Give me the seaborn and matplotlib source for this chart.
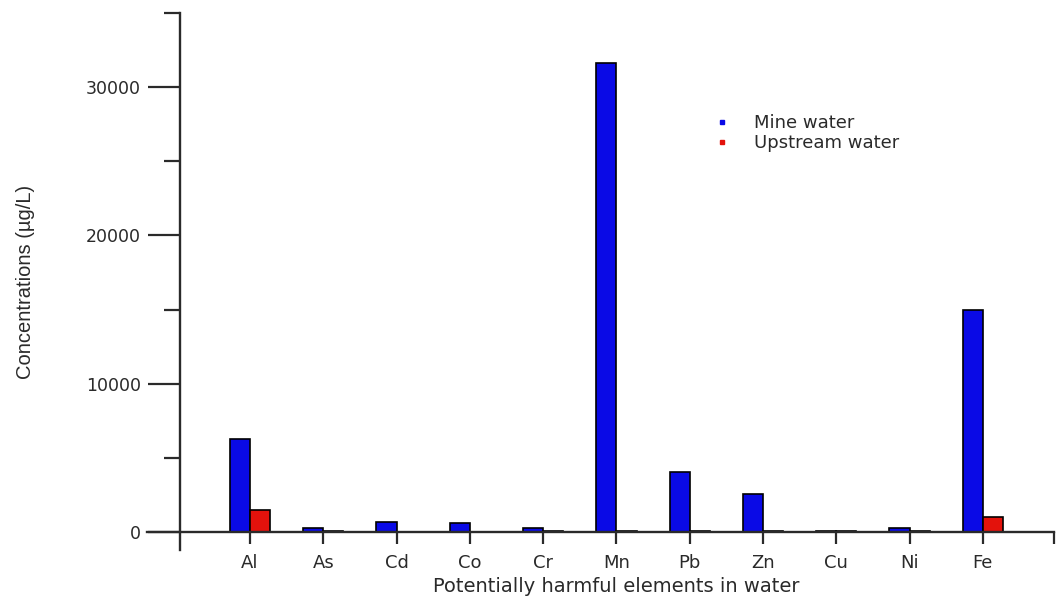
import matplotlib
matplotlib.use("Agg")
import matplotlib.pyplot as plt
import pandas as pd
import seaborn as sns
from matplotlib.lines import Line2D
from matplotlib.ticker import FixedLocator, MultipleLocator

# Concentrations of potentially harmful elements (µg/L)
elements = ["Al", "As", "Cd", "Co", "Cr", "Mn", "Pb", "Zn", "Cu", "Ni", "Fe"]
mine_water = [6250, 300, 700, 600, 300, 31600, 4050, 2550, 80, 300, 14950]
upstream_water = [1500, 40, 30, 30, 40, 100, 40, 60, 40, 50, 1000]
series_names = ["Mine water", "Upstream water"]
y_major = [0, 10000, 20000, 30000]

BLUE = "#0A0AE6"
RED = "#E3120C"
INK = "#2a2a2a"

df = pd.DataFrame({
    "element": elements * 2,
    "conc": mine_water + upstream_water,
    "source": [series_names[0]] * len(elements) + [series_names[1]] * len(elements),
})

sns.set_theme(style="ticks")
plt.rcParams["font.family"] = ["DejaVu Sans"]

W, H = 1056, 601
fig = plt.figure(figsize=(W / 100, H / 100), dpi=100)
ax = fig.add_axes([147 / W, 1 - 550 / H, (1054 - 147) / W, (550 - 13) / H])

sns.barplot(
    data=df, x="element", y="conc", hue="source",
    palette=[BLUE, RED], saturation=1, width=0.55,
    edgecolor="black", linewidth=1.2, errorbar=None,
    legend=False, ax=ax,
)

ax.set_xlim(-1.405, 10.97)
ax.set_ylim(-1215, 35000)

# GraphPad-like axes: x axis at zero, offset y axis
for side in ("top", "right"):
    ax.spines[side].set_visible(False)
ax.spines["left"].set_position(("data", -0.955))
ax.spines["bottom"].set_position(("data", 0))
for side in ("left", "bottom"):
    ax.spines[side].set_color(INK)
    ax.spines[side].set_linewidth(1.7)

ax.yaxis.set_major_locator(FixedLocator(y_major))
ax.yaxis.set_minor_locator(MultipleLocator(5000))
ax.set_yticklabels([str(v) for v in y_major])
ax.tick_params(axis="y", which="major", length=23, width=1.6, color=INK,
               pad=5, labelsize=12.5, labelcolor=INK)
ax.tick_params(axis="y", which="minor", length=11.5, width=1.6, color=INK)

ax.set_xticks(list(range(len(elements))) + [10.97])
ax.set_xticklabels(elements + [""])
ax.tick_params(axis="x", which="major", length=8.5, width=1.6, color=INK,
               pad=7, labelsize=13, labelcolor=INK)

ax.set_xlabel("Potentially harmful elements in water", fontsize=14, color=INK)
ax.xaxis.set_label_coords(0.517, -0.068)
ax.xaxis.label.set_verticalalignment("center")

ax.set_ylabel("Concentrations (µg/L)", fontsize=14.5, color=INK,
              family=["Liberation Sans"])
ax.yaxis.set_label_coords(-0.1345, 0.5)
ax.yaxis.label.set_verticalalignment("center")

handles = [
    Line2D([], [], marker="s", ls="", color=BLUE, markersize=3.5),
    Line2D([], [], marker="s", ls="", color=RED, markersize=3.5),
]
ax.legend(handles, series_names, loc="upper left",
          bbox_to_anchor=(713 / W, 1 - 114 / H), bbox_transform=fig.transFigure,
          frameon=False, fontsize=13, borderpad=0, borderaxespad=0,
          handlelength=1.0, handletextpad=1.25, labelspacing=0.12,
          labelcolor=INK)

fig.savefig("out.png", dpi=100)
